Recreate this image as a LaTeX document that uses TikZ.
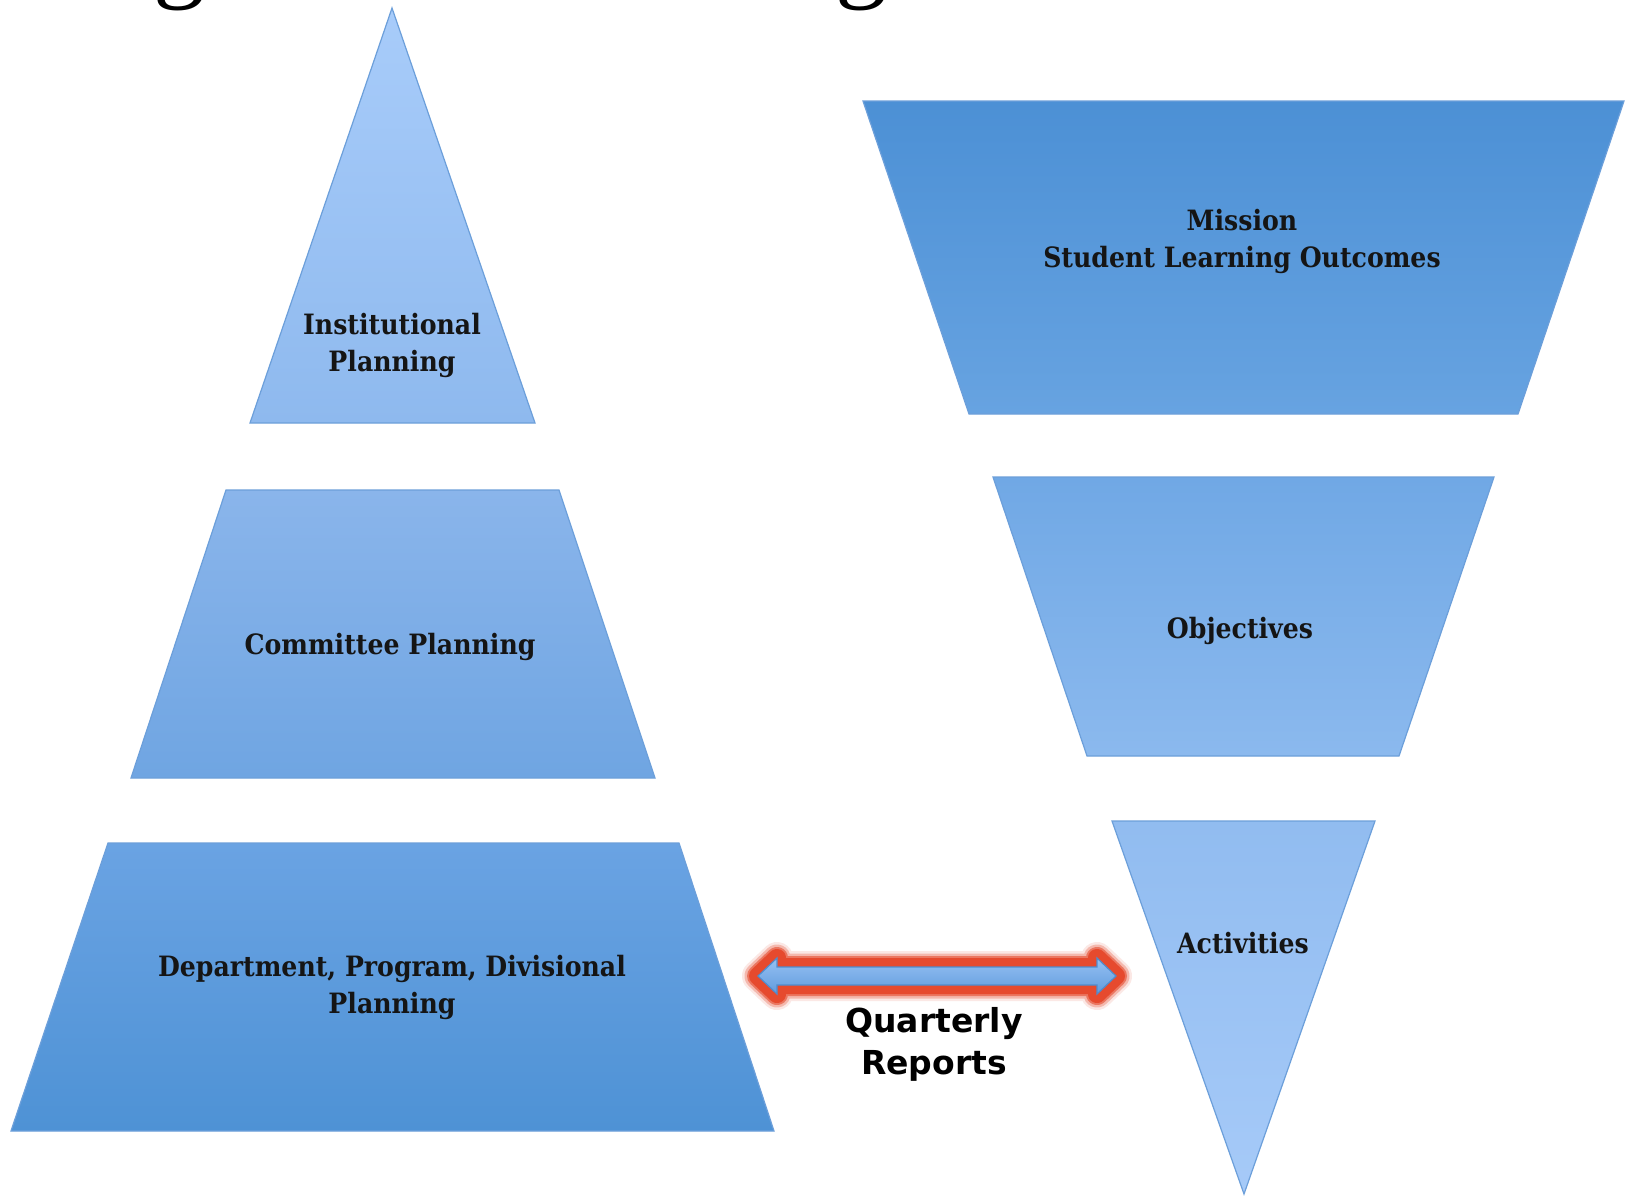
\documentclass[tikz,border=0pt]{standalone}
\usepackage{fontspec}
\usetikzlibrary{calc}
\newfontfamily\lblfont{DejaVu Serif}[FakeStretch=0.9]
\newfontfamily\qfont{DejaVu Sans}
\newfontfamily\titlefont{Liberation Serif}
\definecolor{edgeblue}{HTML}{6C9FDA}
\definecolor{glowred}{HTML}{E64A2E}
\definecolor{txt}{HTML}{151515}
\tikzset{
  blk/.style={draw=edgeblue, line width=1.2pt, line join=miter},
  lbl/.style={font=\lblfont\bfseries\fontsize{28}{37}\selectfont, text=txt, align=center, inner sep=0pt},
  qlbl/.style={font=\qfont\bfseries\fontsize{33}{42}\selectfont, text=black, align=center, inner sep=0pt},
  glow/.style={draw=glowred, line join=round},
}
\begin{document}
\begin{tikzpicture}[x=1pt,y=-1pt]
\useasboundingbox (0,0) rectangle (1627,1195);
\fill[white] (0,0) rectangle (1627,1195);
% cut-off title descenders
\node[anchor=base, font=\titlefont\fontsize{104}{110}\selectfont, inner sep=0pt] (tg1) at (179,-12) {g};
\node[anchor=base, font=\titlefont\fontsize{104}{110}\selectfont, inner sep=0pt] (tg2) at (861,-12) {g};
% left pyramid
\path[blk, top color={rgb,255:red,168;green,204;blue,250}, bottom color={rgb,255:red,142;green,185;blue,238}]
  (392,8) -- (535,423) -- (250,423) -- cycle;
\path[blk, top color={rgb,255:red,138;green,181;blue,235}, bottom color={rgb,255:red,111;green,165;blue,226}]
  (226,490) -- (559,490) -- (655,778) -- (131,778) -- cycle;
\path[blk, top color={rgb,255:red,106;green,163;blue,227}, bottom color={rgb,255:red,78;green,146;blue,213}]
  (108,843) -- (679,843) -- (774,1131) -- (11,1131) -- cycle;
% right inverted pyramid
\path[blk, top color={rgb,255:red,76;green,144;blue,213}, bottom color={rgb,255:red,103;green,163;blue,225}]
  (863,101) -- (1624,101) -- (1518,414) -- (969,414) -- cycle;
\path[blk, top color={rgb,255:red,112;green,168;blue,229}, bottom color={rgb,255:red,139;green,185;blue,238}]
  (993,477) -- (1494,477) -- (1399,756) -- (1087,756) -- cycle;
\path[blk, top color={rgb,255:red,145;green,188;blue,240}, bottom color={rgb,255:red,166;green,202;blue,248}]
  (1112,821) -- (1375,821) -- (1244,1194) -- cycle;
% labels
\node[lbl] (inst) at (392,345) {Institutional\\Planning};
\node[lbl] (comm) at (390,647) {Committee Planning};
\node[lbl] (dept) at (392,987) {Department, Program, Divisional\\Planning};
\node[lbl] (miss) at (1242,241) {Mission\\Student Learning Outcomes};
\node[lbl] (obj) at (1240,631) {Objectives};
\node[lbl] (act) at (1243,943) {Activities};
% quarterly reports double arrow
\coordinate (qL) at (758,976);
\coordinate (qR) at (1116,976);
\foreach \w/\o in {32/0.12, 27/0.3, 22/0.6, 18/1} {
  \path[glow, line width=\w, draw opacity=\o]
    (qL) -- ($(qL)+(19,-18)$) -- ($(qL)+(19,-9)$) -- ($(qR)+(-19,-9)$) -- ($(qR)+(-19,-18)$) -- (qR)
    -- ($(qR)+(-19,18)$) -- ($(qR)+(-19,9)$) -- ($(qL)+(19,9)$) -- ($(qL)+(19,18)$) -- cycle;
}
\path[draw={rgb,255:red,80;green,140;blue,205}, line width=1.2pt, line join=miter,
      top color={rgb,255:red,150;green,193;blue,242}, bottom color={rgb,255:red,96;green,155;blue,222}]
    (qL) -- ($(qL)+(19,-18)$) -- ($(qL)+(19,-9)$) -- ($(qR)+(-19,-9)$) -- ($(qR)+(-19,-18)$) -- (qR)
    -- ($(qR)+(-19,18)$) -- ($(qR)+(-19,9)$) -- ($(qL)+(19,9)$) -- ($(qL)+(19,18)$) -- cycle;
\node[qlbl] (qr) at (934,1044) {Quarterly\\Reports};
\end{tikzpicture}
\end{document}
